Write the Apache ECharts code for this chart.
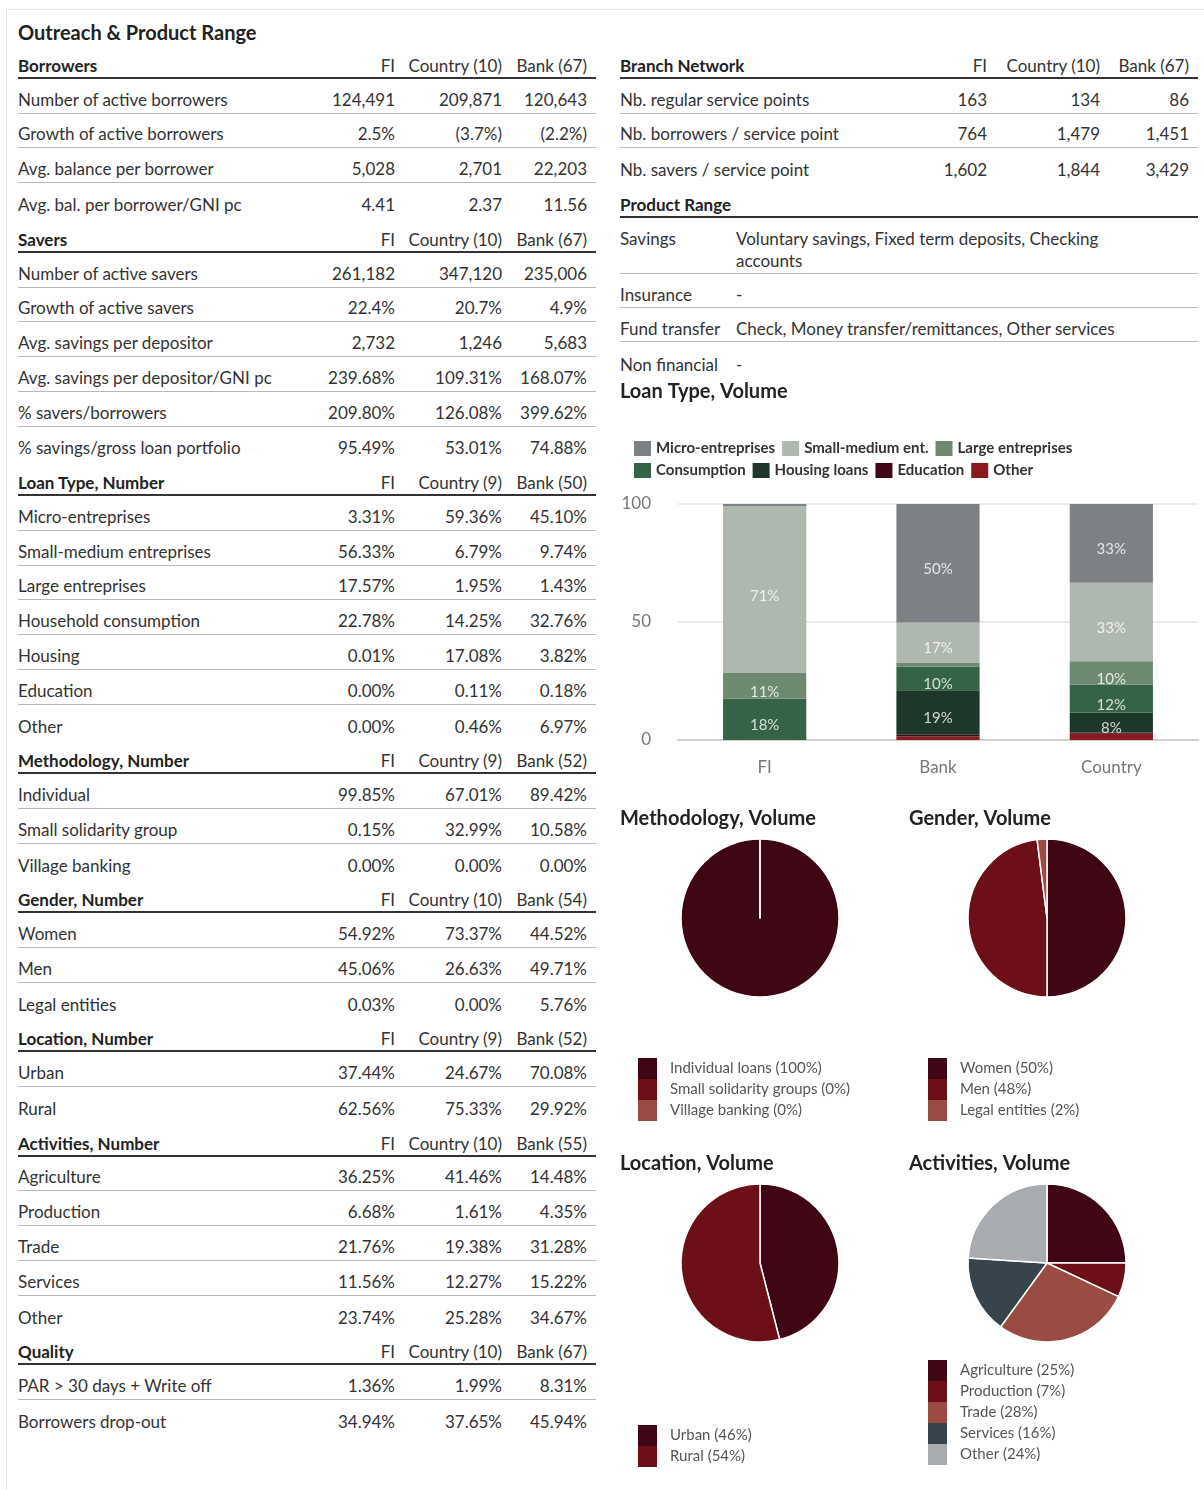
<!DOCTYPE html>
<html>
<head>
<meta charset="utf-8">
<script src="https://cdn.jsdelivr.net/npm/echarts@6/dist/echarts.min.js"></script>
<style>
    body { margin: 0; background: #fff; font-family: Lato, "Noto Sans", sans-serif; color: #333; }
    #page { position: relative; width: 1204px; height: 1490px; overflow: hidden; }
    .frame { position: absolute; left: 6px; top: 9px; width: 1200px; height: 1490px;
             border-left: 1px solid #dfe5ef; border-top: 1px solid #e8ecf2; }
    .title { position: absolute; left: 18px; top: 20px; font-size: 20px; font-weight: bold;
             line-height: 24px; color: #222; }
    .tbl { position: absolute; width: 578px; }
    .row { position: relative; height: 34.77px; box-sizing: border-box; font-size: 17px; }
    .row span { position: absolute; bottom: 3px; line-height: 20px; white-space: nowrap; }
    .row.head { border-bottom: 2px solid #333; font-weight: bold; color: #222; }
    .row.head span { bottom: 1px; }
    .row.head span.c { font-weight: normal; color: #333; }
    .row.line { border-bottom: 1px solid #b9b9b9; }
    .prow { position: relative; font-size: 17px; line-height: 22px; padding: 10px 0 1px 0; }
    .prow.line { border-bottom: 1px solid #b9b9b9; }
    .prow.last { padding-top: 12px; }
    .prow .lab { display: inline-block; width: 116px; vertical-align: top; }
    .prow .val { display: inline-block; width: 420px; vertical-align: top; }
    #chart { position: absolute; left: 600px; top: 375px; width: 604px; height: 1115px; }
</style>
</head>
<body>
<div id="page">
    <div class="frame"></div>
    <div class="title">Outreach &amp; Product Range</div>
    <div id="left" class="tbl" style="left:18px;top:44.2px;"></div>
    <div id="right" class="tbl" style="left:620px;top:44.2px;"></div>
    <div id="chart"></div>
</div>
<script>
// ---- left tables ----
var borrowersHead = ['Borrowers', 'FI', 'Country (10)', 'Bank (67)'];
var borrowersRows = [
    ['Number of active borrowers', '124,491', '209,871', '120,643'],
    ['Growth of active borrowers', '2.5%', '(3.7%)', '(2.2%)'],
    ['Avg. balance per borrower', '5,028', '2,701', '22,203'],
    ['Avg. bal. per borrower/GNI pc', '4.41', '2.37', '11.56']
];
var saversHead = ['Savers', 'FI', 'Country (10)', 'Bank (67)'];
var saversRows = [
    ['Number of active savers', '261,182', '347,120', '235,006'],
    ['Growth of active savers', '22.4%', '20.7%', '4.9%'],
    ['Avg. savings per depositor', '2,732', '1,246', '5,683'],
    ['Avg. savings per depositor/GNI pc', '239.68%', '109.31%', '168.07%'],
    ['% savers/borrowers', '209.80%', '126.08%', '399.62%'],
    ['% savings/gross loan portfolio', '95.49%', '53.01%', '74.88%']
];
var loanTypeHead = ['Loan Type, Number', 'FI', 'Country (9)', 'Bank (50)'];
var loanTypeRows = [
    ['Micro-entreprises', '3.31%', '59.36%', '45.10%'],
    ['Small-medium entreprises', '56.33%', '6.79%', '9.74%'],
    ['Large entreprises', '17.57%', '1.95%', '1.43%'],
    ['Household consumption', '22.78%', '14.25%', '32.76%'],
    ['Housing', '0.01%', '17.08%', '3.82%'],
    ['Education', '0.00%', '0.11%', '0.18%'],
    ['Other', '0.00%', '0.46%', '6.97%']
];
var methodologyHead = ['Methodology, Number', 'FI', 'Country (9)', 'Bank (52)'];
var methodologyRows = [
    ['Individual', '99.85%', '67.01%', '89.42%'],
    ['Small solidarity group', '0.15%', '32.99%', '10.58%'],
    ['Village banking', '0.00%', '0.00%', '0.00%']
];
var genderHead = ['Gender, Number', 'FI', 'Country (10)', 'Bank (54)'];
var genderRows = [
    ['Women', '54.92%', '73.37%', '44.52%'],
    ['Men', '45.06%', '26.63%', '49.71%'],
    ['Legal entities', '0.03%', '0.00%', '5.76%']
];
var locationHead = ['Location, Number', 'FI', 'Country (9)', 'Bank (52)'];
var locationRows = [
    ['Urban', '37.44%', '24.67%', '70.08%'],
    ['Rural', '62.56%', '75.33%', '29.92%']
];
var activitiesHead = ['Activities, Number', 'FI', 'Country (10)', 'Bank (55)'];
var activitiesRows = [
    ['Agriculture', '36.25%', '41.46%', '14.48%'],
    ['Production', '6.68%', '1.61%', '4.35%'],
    ['Trade', '21.76%', '19.38%', '31.28%'],
    ['Services', '11.56%', '12.27%', '15.22%'],
    ['Other', '23.74%', '25.28%', '34.67%']
];
var qualityHead = ['Quality', 'FI', 'Country (10)', 'Bank (67)'];
var qualityRows = [
    ['PAR > 30 days + Write off', '1.36%', '1.99%', '8.31%'],
    ['Borrowers drop-out', '34.94%', '37.65%', '45.94%']
];

// ---- right tables ----
var branchHead = ['Branch Network', 'FI', 'Country (10)', 'Bank (67)'];
var branchRows = [
    ['Nb. regular service points', '163', '134', '86'],
    ['Nb. borrowers / service point', '764', '1,479', '1,451'],
    ['Nb. savers / service point', '1,602', '1,844', '3,429']
];
var productHead = ['Product Range', '', '', ''];
var productRows = [
    ['Savings', 'Voluntary savings, Fixed term deposits, Checking accounts'],
    ['Insurance', '-'],
    ['Fund transfer', 'Check, Money transfer/remittances, Other services'],
    ['Non financial', '-']
];

// ---- charts ----
var loanCats = ['FI', 'Bank', 'Country'];
var loanTypes = ['Micro-entreprises', 'Small-medium ent.', 'Large entreprises', 'Consumption', 'Housing loans', 'Education', 'Other'];
var micro = [1.0, 50.2, 33.4];
var smallMedium = [70.6, 17.0, 33.2];
var large = [10.9, 1.7, 9.9];
var consumption = [17.5, 10.0, 12.0];
var housing = [0, 18.9, 8.3];
var education = [0, 0.7, 0.5];
var other = [0, 1.5, 2.7];

var methodNames = ['Individual loans', 'Small solidarity groups', 'Village banking'];
var methodValues = [100, 0, 0];
var genderNames = ['Women', 'Men', 'Legal entities'];
var genderValues = [50, 48, 2];
var locationNames = ['Urban', 'Rural'];
var locationValues = [46, 54];
var activityNames = ['Agriculture', 'Production', 'Trade', 'Services', 'Other'];
var activityValues = [25, 7, 28, 16, 24];

var loanColors = {
    'Micro-entreprises': '#7c8284',
    'Small-medium ent.': '#afb8af',
    'Large entreprises': '#6d8a71',
    'Consumption': '#346445',
    'Housing loans': '#1d3828',
    'Education': '#3f0713',
    'Other': '#8a1a1e'
};
var pieColors = ['#3f0613', '#6d0f18', '#9a4b43', '#37444e', '#a8acb1'];

function addRows(el, head, rows, cols) {
    var html = '<div class="row head"><span style="left:0">' + head[0] + '</span>';
    for (var j = 1; j < 4; j++) {
        if (head[j]) html += '<span class="c" style="right:' + cols[j - 1] + 'px">' + head[j] + '</span>';
    }
    html += '</div>';
    rows.forEach(function (r, i) {
        html += '<div class="row' + (i < rows.length - 1 ? ' line' : '') + '"><span style="left:0">' + r[0] + '</span>';
        for (var j = 1; j < 4; j++) {
            html += '<span style="right:' + cols[j - 1] + 'px">' + r[j] + '</span>';
        }
        html += '</div>';
    });
    el.insertAdjacentHTML('beforeend', html);
}

var leftEl = document.getElementById('left');
var leftCols = [201, 94, 9];
[[borrowersHead, borrowersRows], [saversHead, saversRows], [loanTypeHead, loanTypeRows],
 [methodologyHead, methodologyRows], [genderHead, genderRows], [locationHead, locationRows],
 [activitiesHead, activitiesRows], [qualityHead, qualityRows]].forEach(function (s) {
    addRows(leftEl, s[0], s[1], leftCols);
});

var rightEl = document.getElementById('right');
addRows(rightEl, branchHead, branchRows, [211, 98, 9]);
addRows(rightEl, productHead, [], [211, 98, 9]);
productRows.forEach(function (r, i) {
    var last = i === productRows.length - 1;
    rightEl.insertAdjacentHTML('beforeend',
        '<div class="prow' + (last ? ' last' : ' line') + '"><span class="lab">' + r[0] +
        '</span><span class="val">' + r[1] + '</span></div>');
});

// pie data names carry the share shown in the legend
function pieData(names, values) {
    var total = values.reduce(function (a, b) { return a + b; }, 0);
    return names.map(function (n, i) {
        return {name: n + ' (' + Math.round(values[i] / total * 100) + '%)', value: values[i],
                itemStyle: {color: pieColors[i]}};
    });
}

var methodData = pieData(methodNames, methodValues);
var genderData = pieData(genderNames, genderValues);
var locationData = pieData(locationNames, locationValues);
var activityData = pieData(activityNames, activityValues);

function pieSeries(data, center) {
    return {
        type: 'pie',
        radius: 79,
        center: center,
        data: data,
        startAngle: 90,
        label: {show: false},
        labelLine: {show: false},
        itemStyle: {borderColor: '#fff', borderWidth: 1.5},
        emphasis: {disabled: true},
        animation: false
    };
}

function pieLegend(data, left, top) {
    return {
        data: data.map(function (d) { return d.name; }),
        orient: 'vertical',
        left: left,
        top: top,
        padding: 0,
        itemGap: 0,
        itemWidth: 19,
        itemHeight: 21,
        icon: 'rect',
        selectedMode: false,
        itemStyle: {borderWidth: 0},
        textStyle: {fontSize: 15, color: '#555', lineHeight: 21, padding: [0, 0, 0, 8]}
    };
}

var stackOrder = [
    ['Other', other], ['Education', education], ['Housing loans', housing],
    ['Consumption', consumption], ['Large entreprises', large],
    ['Small-medium ent.', smallMedium], ['Micro-entreprises', micro]
];

var barSeries = stackOrder.map(function (s) {
    return {
        name: s[0],
        type: 'bar',
        stack: 'loan',
        barWidth: '48%',
        data: s[1],
        itemStyle: {color: loanColors[s[0]]},
        label: {
            show: true,
            position: 'inside',
            offset: [0, 6],
            fontSize: 15,
            color: 'rgba(255,255,255,0.8)',
            formatter: function (p) { return p.value >= 5 ? Math.round(p.value) + '%' : ''; }
        },
        emphasis: {disabled: true},
        animation: false
    };
});

var titleStyle = {fontSize: 20, fontWeight: 'bold', color: '#222', fontFamily: 'Lato'};

var myChart = echarts.init(document.getElementById('chart'));
var option = {
    textStyle: {fontFamily: 'Lato'},
    title: [
        {text: 'Loan Type, Volume', left: 20, top: 7, padding: 0, textStyle: titleStyle},
        {text: 'Methodology, Volume', left: 20, top: 434, padding: 0, textStyle: titleStyle},
        {text: 'Gender, Volume', left: 309, top: 434, padding: 0, textStyle: titleStyle},
        {text: 'Location, Volume', left: 20, top: 779, padding: 0, textStyle: titleStyle},
        {text: 'Activities, Volume', left: 309, top: 779, padding: 0, textStyle: titleStyle}
    ],
    legend: [
        {
            data: loanTypes,
            left: 34,
            top: 66,
            width: 470,
            padding: 0,
            itemGap: 7,
            itemWidth: 17,
            itemHeight: 15,
            icon: 'rect',
            selectedMode: false,
            itemStyle: {borderWidth: 0},
            textStyle: {fontSize: 15, fontWeight: 'bold', color: '#333', lineHeight: 14}
        },
        pieLegend(methodData, 38, 683),
        pieLegend(genderData, 328, 683),
        pieLegend(locationData, 38, 1050),
        pieLegend(activityData, 328, 985)
    ],
    grid: {left: 78, top: 129, width: 520, height: 236},
    xAxis: {
        type: 'category',
        data: loanCats,
        axisTick: {show: false},
        axisLine: {lineStyle: {color: '#cfcfcf', width: 2}},
        axisLabel: {fontSize: 17, color: '#777', margin: 19}
    },
    yAxis: {
        type: 'value',
        min: 0,
        max: 100,
        interval: 50,
        axisLabel: {fontSize: 17, color: '#777', margin: 27},
        splitLine: {lineStyle: {color: '#e4e4e4', width: 1.5}}
    },
    series: barSeries.concat([
        pieSeries(methodData, [160, 543]),
        pieSeries(genderData, [447, 543]),
        pieSeries(locationData, [160, 888]),
        pieSeries(activityData, [447, 888])
    ])
};
myChart.setOption(option);
</script>
</body>
</html>
